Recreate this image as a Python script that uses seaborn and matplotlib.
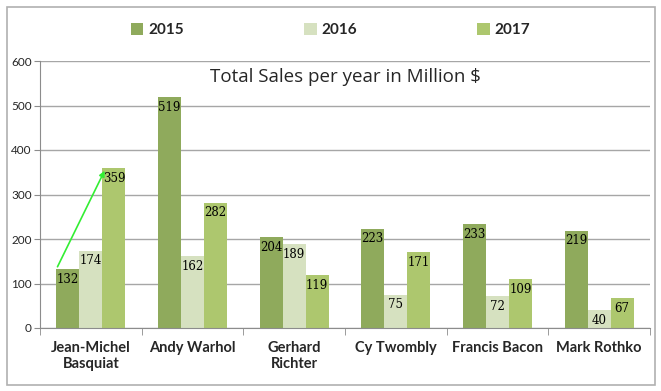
import matplotlib
matplotlib.use("Agg")
import matplotlib.pyplot as plt
import seaborn as sns
import pandas as pd
import numpy as np
from matplotlib.patches import Rectangle

artists = ["Jean-Michel\nBasquiat", "Andy Warhol", "Gerhard\nRichter", "Cy Twombly", "Francis Bacon", "Mark Rothko"]
years = ["2015", "2016", "2017"]
sales_2015 = [132, 519, 204, 223, 233, 219]
sales_2016 = [174, 162, 189, 75, 72, 40]
sales_2017 = [359, 282, 119, 171, 109, 67]
colors = ["#8faa5c", "#d6e1c0", "#adc76e"]
y_ticks = [0, 100, 200, 300, 400, 500, 600]

rows = []
for yr, vals in zip(years, [sales_2015, sales_2016, sales_2017]):
    for a, v in zip(artists, vals):
        rows.append({"Artist": a, "Year": yr, "Sales": v})
df = pd.DataFrame(rows)

sns.set_style("white")
plt.rcParams['font.family'] = ['Lato', 'DejaVu Sans']

fig = plt.figure(figsize=(6.61, 3.91), dpi=100)
ax = fig.add_axes([40/661, 1-328/391, 610/661, 267/391])

sns.barplot(data=df, x="Artist", y="Sales", hue="Year", palette=colors,
            order=artists, hue_order=years, width=0.68, gap=0, ax=ax,
            saturation=1, errorbar=None, legend=True, linewidth=0)

ax.set_ylim(0, 600)
ax.set_xlim(-0.5, len(artists) - 0.5)
ax.set_yticks(y_ticks)
ax.set_yticklabels([str(t) for t in y_ticks], fontsize=8.5)
ax.yaxis.grid(True, color="#a6a6a6", linewidth=1)
ax.set_axisbelow(True)
ax.set_xlabel("")
ax.set_ylabel("")
for s in ["top", "right"]:
    ax.spines[s].set_visible(False)
ax.spines["left"].set_color("#8c8c8c")
ax.spines["bottom"].set_color("#8c8c8c")
ax.tick_params(axis="y", which="major", left=True, length=4, color="#8c8c8c", pad=2)
ax.tick_params(axis="x", which="major", bottom=False, pad=6)
ax.set_xticks(np.arange(-0.5, len(artists), 1), minor=True)
ax.tick_params(axis="x", which="minor", bottom=True, length=5, color="#8c8c8c")
for lbl in ax.get_xticklabels():
    lbl.set_fontweight("bold")
    lbl.set_fontsize(10.5)

# data labels
for cont in ax.containers:
    ax.bar_label(cont, labels=[f"{int(v)}" for v in cont.datavalues],
                 label_type="edge", padding=-12, fontsize=8.5,
                 family="DejaVu Serif", color="black")

# legend
handles, labels = ax.get_legend_handles_labels()
ax.legend_.remove()
fig.legend(handles, labels, loc="center", bbox_to_anchor=(0.5, 1-30/391), ncol=3,
           frameon=False, prop={"weight": "bold", "size": 11},
           handlelength=0.8, handleheight=0.8, handletextpad=0.3, columnspacing=7.9)

# title
ax.text(0.5, 0.94, "Total Sales per year in Million $", transform=ax.transAxes,
        ha="center", va="center", fontsize=13.5, family=["Open Sans", "DejaVu Sans"])

# green arrow from Basquiat 2015 to 2017
p15 = ax.containers[0].patches[0]
p17 = ax.containers[2].patches[0]
ax.annotate("", xy=(p17.get_x() + p17.get_width() * 0.15, p17.get_height()),
            xytext=(p15.get_x(), p15.get_height()),
            arrowprops=dict(arrowstyle="-|>", color="#33ee33", lw=1.2, mutation_scale=8))

# outer frame
fig.patches.append(Rectangle((7/661, 1-385/391), 648/661, 378/391, transform=fig.transFigure,
                             fill=False, edgecolor="#b0b0b0", linewidth=1.2))

fig.savefig("out.png", dpi=100)
